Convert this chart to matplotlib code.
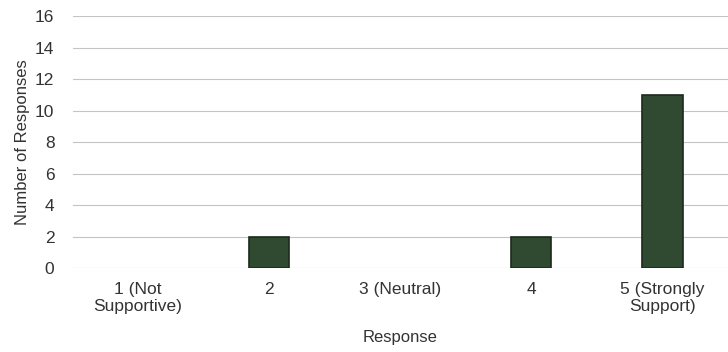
import matplotlib
matplotlib.use("Agg")
import matplotlib.pyplot as plt
import numpy as np

plt.rcParams['font.family'] = ['Liberation Sans', 'DejaVu Sans']

categories = ["1 (Not\nSupportive)", "2", "3 (Neutral)", "4", "5 (Strongly\nSupport)"]
responses = [0, 2, 0, 2, 11]

fig = plt.figure(figsize=(7.28, 3.52), dpi=100)
ax = fig.add_axes([0.0996, 0.2386, 0.9, 0.7159])

x = np.arange(len(categories))
# no outline on empty bars so they stay invisible
widths = [0 if v == 0 else 1.2 for v in responses]
ax.bar(x, responses, width=0.31, color='#2f4a30', edgecolor='#1b2a1b',
       linewidth=widths, zorder=3)

ax.set_xlim(-0.5, len(categories) - 0.5)
ax.set_ylim(0, 16)
ax.set_yticks(range(0, 17, 2))
ax.set_xticks(x)
ax.set_xticklabels(categories, linespacing=1.15)
ax.grid(axis='y', color='#c4c4c4', linewidth=0.8, zorder=0)
ax.tick_params(length=0, labelsize=12.5, colors='#333333')
ax.tick_params(axis='y', pad=13)
ax.tick_params(axis='x', pad=10)
for s in ax.spines.values():
    s.set_visible(False)

ax.set_ylabel("Number of Responses", fontsize=12, color='#333333', labelpad=4)
ax.set_xlabel("Response", fontsize=12, color='#333333', labelpad=12)

fig.savefig("out.png", dpi=100)
